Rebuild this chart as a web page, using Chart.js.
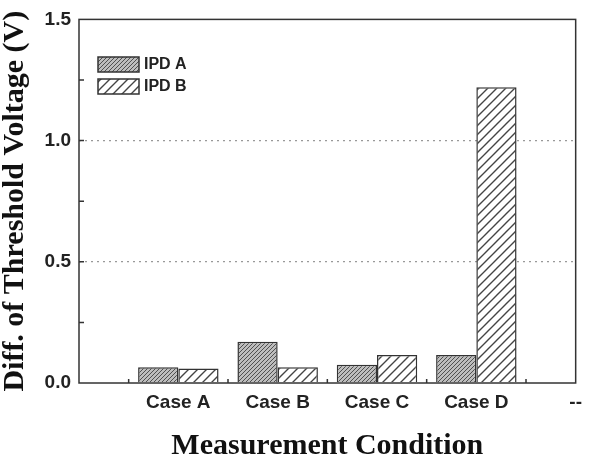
<!DOCTYPE html>
<html>
<head>
<meta charset="utf-8">
<script src="https://cdn.jsdelivr.net/npm/chart.js@4/dist/chart.umd.min.js"></script>
<style>
  html, body { margin: 0; padding: 0; background: #fff; }
  #wrap { width: 590px; height: 456px; }
</style>
</head>
<body>
<div id="wrap"><canvas id="chart"></canvas></div>
<script>
// ── DATA ─────────────────────────────────────────────
const xTickLabels = ['', 'Case A', 'Case B', 'Case C', 'Case D', '--'];
const ipdA = [null, 0.065, 0.17, 0.075, 0.115, null];
const ipdB = [null, 0.06, 0.065, 0.115, 1.22, null];
const seriesNames = ['IPD A', 'IPD B'];
const yTicks = [0, 0.5, 1.0, 1.5];

// ── hatch patterns ───────────────────────────────────
function hatch(size, bg, fg, lw) {
  const c = document.createElement('canvas');
  c.width = size; c.height = size;
  const g = c.getContext('2d');
  g.fillStyle = bg;
  g.fillRect(0, 0, size, size);
  g.strokeStyle = fg;
  g.lineWidth = lw;
  g.beginPath();
  g.moveTo(0, size); g.lineTo(size, 0);
  g.moveTo(-size / 2, size / 2); g.lineTo(size / 2, -size / 2);
  g.moveTo(size / 2, size * 1.5); g.lineTo(size * 1.5, size / 2);
  g.stroke();
  return g.createPattern(c, 'repeat');
}
const patA = hatch(4, '#bdbdbd', '#505050', 1);
const patB = hatch(9, '#ffffff', '#444', 1.4);
const edge = '#333';
const sans = "'Liberation Sans', Arial, sans-serif";
const serif = "'Liberation Serif', 'Times New Roman', serif";

// frame, inward ticks and legend
const decor = {
  id: 'decor',
  afterDraw(chart) {
    const { ctx, chartArea: a, scales: { x, y } } = chart;
    ctx.save();
    ctx.strokeStyle = edge;
    ctx.lineWidth = 1.5;
    ctx.strokeRect(a.left, a.top, a.right - a.left, a.bottom - a.top);
    ctx.beginPath();
    for (let v = 0.25; v < 1.5; v += 0.25) {
      const py = y.getPixelForValue(v);
      ctx.moveTo(a.left, py); ctx.lineTo(a.left + 5, py);
    }
    for (let i = 0; i < xTickLabels.length - 1; i++) {
      const px = (x.getPixelForValue(i) + x.getPixelForValue(i + 1)) / 2;
      ctx.moveTo(px, a.bottom); ctx.lineTo(px, a.bottom - 4);
    }
    ctx.stroke();

    // legend
    ctx.font = 'bold 16px ' + sans;
    ctx.textBaseline = 'middle';
    chart.data.datasets.forEach((ds, i) => {
      const bx = 98, by = 57 + i * 22;
      ctx.fillStyle = ds.backgroundColor;
      ctx.fillRect(bx, by, 41, 15);
      ctx.lineWidth = 1.5;
      ctx.strokeStyle = edge;
      ctx.strokeRect(bx, by, 41, 15);
      ctx.fillStyle = '#222';
      ctx.fillText(ds.label, bx + 46, by + 8);
    });
    ctx.restore();
  }
};

new Chart(document.getElementById('chart'), {
  type: 'bar',
  data: {
    labels: xTickLabels,
    datasets: [
      { label: seriesNames[0], data: ipdA, backgroundColor: patA, borderColor: edge, borderWidth: 1.5 },
      { label: seriesNames[1], data: ipdB, backgroundColor: patB, borderColor: edge, borderWidth: 1.5 }
    ]
  },
  options: {
    responsive: true,
    maintainAspectRatio: false,
    animation: false,
    categoryPercentage: 0.81,
    barPercentage: 1.0,
    layout: { padding: { top: 19, right: 13, left: 0, bottom: 0 } },
    plugins: { legend: { display: false }, tooltip: { enabled: false } },
    scales: {
      x: {
        offset: false,
        grid: { display: false, drawTicks: false },
        border: { display: false },
        ticks: {
          color: '#222', padding: 8, maxRotation: 0, autoSkip: false,
          font: { family: sans, size: 19, weight: 'bold' }
        },
        title: {
          display: true, text: 'Measurement Condition', color: '#111',
          padding: { top: 0, bottom: -5 },
          font: { family: serif, size: 30, weight: 'bold', lineHeight: 1 }
        },
        afterFit: s => { s.height = 73; }
      },
      y: {
        min: 0, max: 1.5,
        afterBuildTicks: s => { s.ticks = yTicks.map(v => ({ value: v })); },
        grid: {
          drawTicks: false,
          color: c => (c.tick && (c.tick.value === 0.5 || c.tick.value === 1)) ? '#999' : 'rgba(0,0,0,0)',
          lineWidth: 1.3
        },
        border: { display: false, dash: [2, 4] },
        ticks: {
          color: '#222', padding: 8,
          callback: v => v.toFixed(1),
          font: { family: sans, size: 19, weight: 'bold' }
        },
        title: {
          display: true, text: 'Diff. of Threshold Voltage (V)', color: '#111',
          padding: { top: 0, bottom: 0 },
          font: { family: serif, size: 30, weight: 'bold', lineHeight: 1 }
        },
        afterFit: s => { s.width = 79; }
      }
    }
  },
  plugins: [decor]
});
</script>
</body>
</html>
